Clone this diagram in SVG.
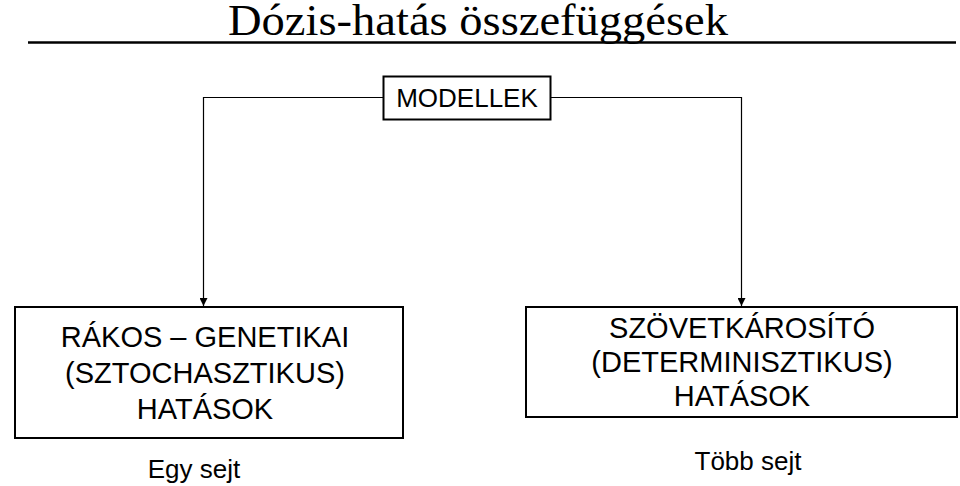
<svg xmlns="http://www.w3.org/2000/svg" width="960" height="486" viewBox="0 0 960 486">
<style>
.box{fill:#fff;stroke:#000;stroke-width:2}
.t{font-family:"Liberation Sans",Arial,sans-serif;fill:#000;text-anchor:middle}
.c{fill:none;stroke:#000;stroke-width:1.2}
</style>
<defs>
<marker id="ah" viewBox="0 0 10 10" refX="10" refY="5" markerWidth="8" markerHeight="8" markerUnits="userSpaceOnUse" orient="auto">
<path d="M0,0 L10,5 L0,10 Z" fill="#000"/>
</marker>
</defs>
<rect width="960" height="486" fill="#fff"/>
<g id="title">
<text x="478" y="35" font-family="'Liberation Serif','Times New Roman',serif" font-size="44" text-anchor="middle" fill="#000" textLength="500" lengthAdjust="spacingAndGlyphs">Dózis-hatás összefüggések</text>
<line x1="28" y1="42.5" x2="956" y2="42.5" stroke="#000" stroke-width="2.5"/>
</g>
<g id="connectors">
<path class="c" d="M383,97.5 H203.5 V306" marker-end="url(#ah)"/>
<path class="c" d="M550,97.5 H741.5 V306" marker-end="url(#ah)"/>
</g>
<g id="modellek">
<rect class="box" x="383.5" y="76.5" width="167" height="43" stroke-width="1.2"/>
<text class="t" x="467" y="107" font-size="26">MODELLEK</text>
</g>
<g id="rakos">
<rect class="box" x="15" y="307" width="388" height="131"/>
<text class="t" x="205" y="347" font-size="29">RÁKOS – GENETIKAI</text>
<text class="t" x="205" y="383" font-size="29">(SZTOCHASZTIKUS)</text>
<text class="t" x="205" y="419" font-size="29">HATÁSOK</text>
</g>
<g id="szovet">
<rect class="box" x="526" y="307" width="431" height="110"/>
<text class="t" x="742" y="338" font-size="29">SZÖVETKÁROSÍTÓ</text>
<text class="t" x="742" y="372" font-size="29">(DETERMINISZTIKUS)</text>
<text class="t" x="742" y="406" font-size="29">HATÁSOK</text>
</g>
<g id="egy">
<text class="t" x="194" y="478" font-size="26">Egy sejt</text>
</g>
<g id="tobb">
<text class="t" x="748" y="470" font-size="26">Több sejt</text>
</g>
</svg>
